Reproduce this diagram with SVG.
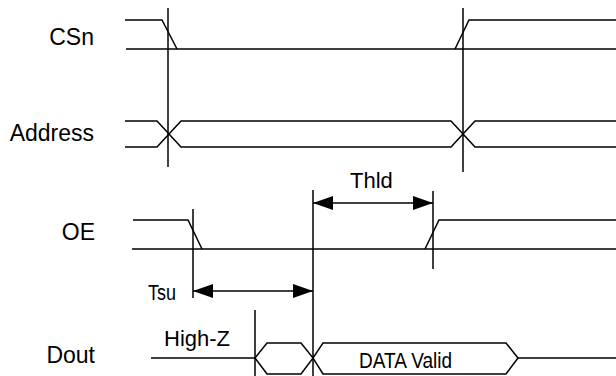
<svg xmlns="http://www.w3.org/2000/svg" width="616" height="376" viewBox="0 0 616 376">
<style>
.w{fill:none;stroke:#000;stroke-width:1.5;stroke-linejoin:miter}
.g{fill:none;stroke:#000;stroke-width:1.5}
.lbl{font-family:"Liberation Sans",Arial,sans-serif;font-size:23px;fill:#000}
.t{font-family:"Liberation Sans",Arial,sans-serif;font-size:22px;fill:#000}
.a{stroke:#000;stroke-width:1.5;fill:none;marker-start:url(#ah);marker-end:url(#ah)}
</style>
<defs>
<marker id="ah" viewBox="0 0 20 14" refX="20" refY="7" markerWidth="20" markerHeight="14" markerUnits="userSpaceOnUse" orient="auto-start-reverse">
<path d="M0,0 L20,7 L0,14 Z" fill="#000"/>
</marker>
</defs>
<rect width="616" height="376" fill="#fff"/>

<g id="csn">
<text class="lbl" x="94" y="45" text-anchor="end">CSn</text>
<path class="w" d="M125,20 H162 L177,49"/>
<path class="w" d="M126,49 H616"/>
<path class="w" d="M455,49 L469,20 H616"/>
</g>

<g id="address">
<text class="lbl" x="94" y="141" text-anchor="end">Address</text>
<path class="w" d="M125,121 H157 L181,147 H451 L475,121 H616"/>
<path class="w" d="M125,147 H157 L181,121 H451 L475,147 H616"/>
</g>

<g id="oe">
<text class="lbl" x="95" y="240" text-anchor="end">OE</text>
<path class="w" d="M133,220 H188 L202,249"/>
<path class="w" d="M132,249 H616"/>
<path class="w" d="M425,249 L439,220 H616"/>
</g>

<g id="dout">
<text class="lbl" x="95" y="363" text-anchor="end">Dout</text>
<text class="t" x="164" y="346">High-Z</text>
<path class="w" d="M151,358 H255 L267,343 H301 L313,358 L323,343 H506 L518,358 H616"/>
<path class="w" d="M255,358 L267,374 H301 L313,358 L323,374 H506 L518,358"/>
<text class="t" x="359" y="368" font-size="21" textLength="93" lengthAdjust="spacingAndGlyphs">DATA Valid</text>
</g>

<g id="connectors">
<path class="g" d="M168,8 V167"/>
<path class="g" d="M463,8 V172"/>
<path class="g" d="M193,209 V298"/>
<path class="g" d="M433,191 V269"/>
<path class="g" d="M313,190 V376"/>
<path class="g" d="M255,310 V376"/>
<path class="a" d="M193,291 H313"/>
<path class="a" d="M313,203 H433"/>
<text class="t" x="350" y="188">Thld</text>
<text class="t" x="148" y="300" textLength="28" lengthAdjust="spacingAndGlyphs">Tsu</text>
</g>
</svg>
